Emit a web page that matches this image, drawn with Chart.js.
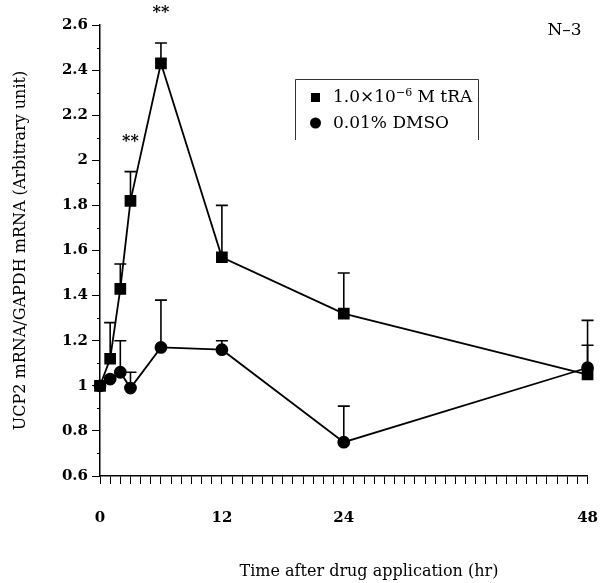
<!DOCTYPE html>
<html>
<head>
<meta charset="utf-8">
<script src="https://cdn.jsdelivr.net/npm/chart.js@4.4.1/dist/chart.umd.min.js"></script>
<style>
  html, body { margin: 0; padding: 0; background: #fff; }
  #wrap { width: 614px; height: 583px; }
</style>
</head>
<body>
<div id="wrap"><canvas id="chart" width="614" height="583"></canvas></div>
<script>
// hours after drug application
const hours = [0, 1, 2, 3, 6, 12, 24, 48];

// 1.0x10^-6 M tRA
const traMean = [1.0, 1.12, 1.43, 1.82, 2.43, 1.57, 1.32, 1.05];
const traErr = [0, 0.16, 0.11, 0.13, 0.09, 0.23, 0.18, 0.13];

// 0.01% DMSO
const dmsoMean = [1.0, 1.03, 1.06, 0.99, 1.17, 1.16, 0.75, 1.08];
const dmsoErr = [0, 0, 0.14, 0.07, 0.21, 0.04, 0.16, 0.21];

// significance marks
const starHours = [3, 6];
const starValues = [2.1, 2.67];

const xLabels = [0, 12, 24, 48];
const xTitle = 'Time after drug application (hr)';
const SERIF = '"DejaVu Serif", "Liberation Serif", serif';

function toPoints(means) {
  return hours.map((h, i) => ({ x: h, y: means[i] }));
}

const errorBars = {
  id: 'errorBars',
  beforeDatasetsDraw(chart) {
    const { ctx, scales: { x, y } } = chart;
    const sets = [[traMean, traErr], [dmsoMean, dmsoErr]];
    ctx.save();
    ctx.strokeStyle = '#000';
    ctx.lineWidth = 1.6;
    sets.forEach(([means, errs]) => {
      hours.forEach((h, i) => {
        if (!errs[i]) return;
        const px = x.getPixelForValue(h);
        const y0 = y.getPixelForValue(means[i]);
        const y1 = y.getPixelForValue(means[i] + errs[i]);
        ctx.beginPath();
        ctx.moveTo(px, y0);
        ctx.lineTo(px, y1);
        ctx.moveTo(px - 6, y1);
        ctx.lineTo(px + 6, y1);
        ctx.stroke();
      });
    });
    ctx.restore();
  }
};

const decorations = {
  id: 'decorations',
  afterDraw(chart) {
    const { ctx, chartArea, scales: { x, y } } = chart;
    ctx.save();
    // minor y ticks
    ctx.strokeStyle = '#000';
    ctx.lineWidth = 1;
    for (let k = 7; k < 26; k += 2) {
      const py = Math.round(y.getPixelForValue(k / 10)) + 0.5;
      ctx.beginPath();
      ctx.moveTo(chartArea.left - 3, py);
      ctx.lineTo(chartArea.left, py);
      ctx.stroke();
    }
    // stars
    ctx.fillStyle = '#000';
    ctx.font = 'bold 16px ' + SERIF;
    ctx.textAlign = 'center';
    ctx.textBaseline = 'middle';
    starHours.forEach((h, i) => {
      ctx.fillText('**', x.getPixelForValue(h), y.getPixelForValue(starValues[i]) + 4);
    });
    // x axis title (sits right of centre in the original)
    ctx.font = '16px ' + SERIF;
    ctx.fillText(xTitle, chartArea.left + 269, chartArea.bottom + 96);
    // N-3 tag
    ctx.font = '17px ' + SERIF;
    ctx.fillText('N\u20133', chartArea.right - 23, chartArea.top + 6);
    // legend
    const lx = chartArea.left + 195;
    const ly = chartArea.top + 54;
    ctx.lineWidth = 1;
    ctx.strokeStyle = '#333';
    ctx.beginPath();
    ctx.moveTo(lx + 0.5, ly + 61);
    ctx.lineTo(lx + 0.5, ly + 0.5);
    ctx.lineTo(lx + 183.5, ly + 0.5);
    ctx.lineTo(lx + 183.5, ly + 61);
    ctx.stroke();
    ctx.fillRect(lx + 16, ly + 14, 9, 9);
    ctx.beginPath();
    ctx.arc(lx + 20.5, ly + 44, 5.5, 0, Math.PI * 2);
    ctx.fill();
    ctx.textAlign = 'left';
    ctx.font = '17px ' + SERIF;
    let tx = lx + 38;
    ctx.fillText('1.0\u00d710', tx, ly + 19);
    tx += ctx.measureText('1.0\u00d710').width;
    ctx.font = '11px ' + SERIF;
    ctx.fillText('\u22126', tx, ly + 14);
    tx += ctx.measureText('\u22126').width;
    ctx.font = '17px ' + SERIF;
    ctx.fillText(' M tRA', tx, ly + 19);
    ctx.fillText('0.01% DMSO', lx + 38, ly + 45);
    ctx.restore();
  }
};

new Chart(document.getElementById('chart'), {
  type: 'line',
  data: {
    datasets: [
      {
        label: '1.0\u00d710\u207b\u2076 M tRA',
        data: toPoints(traMean),
        borderColor: '#000',
        backgroundColor: '#000',
        borderWidth: 1.8,
        pointStyle: 'rect',
        pointRadius: 7,
        tension: 0,
        clip: false
      },
      {
        label: '0.01% DMSO',
        data: toPoints(dmsoMean),
        borderColor: '#000',
        backgroundColor: '#000',
        borderWidth: 1.8,
        pointStyle: 'circle',
        pointRadius: 5.5,
        tension: 0,
        clip: false
      }
    ]
  },
  options: {
    responsive: false,
    animation: false,
    layout: { padding: { top: 25, right: 26, left: 0, bottom: 0 } },
    plugins: {
      legend: { display: false },
      tooltip: { enabled: false }
    },
    scales: {
      x: {
        type: 'linear',
        min: 0,
        max: 48,
        border: { display: true, color: '#000', width: 1.5 },
        grid: { drawOnChartArea: false, tickLength: 8, color: '#000', tickWidth: 1 },
        ticks: {
          stepSize: 1,
          autoSkip: false,
          maxRotation: 0,
          padding: 16,
          color: '#000',
          font: { family: SERIF, size: 15, weight: 'bold', lineHeight: 2.4 },
          callback: v => xLabels.includes(v) ? String(v) : ''
        },
        title: { display: false },
        afterFit: scale => { scale.height = 107; }
      },
      y: {
        min: 0.6,
        max: 2.6,
        border: { display: true, color: '#000', width: 1.5 },
        grid: {
          drawOnChartArea: false,
          tickLength: 8,
          tickWidth: 1,
          tickColor: c => Math.round(c.tick.value * 10) % 2 === 0 ? '#000' : 'rgba(0,0,0,0)'
        },
        ticks: {
          stepSize: 0.1,
          autoSkip: false,
          padding: 4,
          color: '#000',
          font: { family: SERIF, size: 15, weight: 'bold' },
          callback: v => Math.round(v * 10) % 2 === 0 ? String(Math.round(v * 10) / 10) : ''
        },
        title: {
          display: true,
          text: 'UCP2 mRNA/GAPDH mRNA (Arbitrary unit)',
          color: '#000',
          font: { family: SERIF, size: 16 },
          padding: { top: 11, bottom: 0 }
        },
        afterFit: scale => { scale.width = 100; }
      }
    }
  },
  plugins: [errorBars, decorations]
});
</script>
</body>
</html>
